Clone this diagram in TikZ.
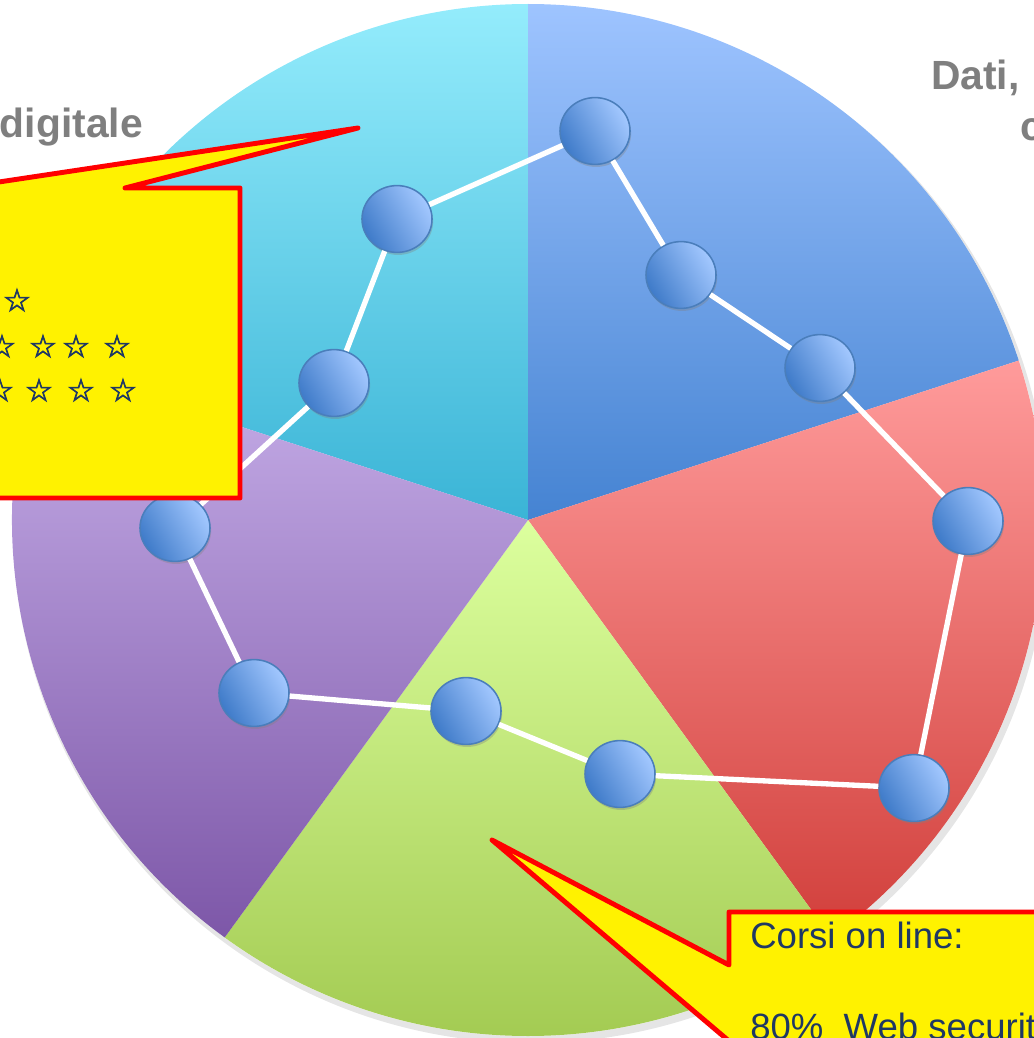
\documentclass[tikz,border=0pt]{standalone}
\usepackage{fontspec}
\setmainfont{Liberation Sans}
\newfontfamily\symfont[FakeBold=2.5]{DejaVu Sans}
\usepackage{xcolor}
\usepackage{tikz}
\usetikzlibrary{shapes.geometric,shadows}
\definecolor{cyantop}{HTML}{94ECFC}
\definecolor{cyanbot}{HTML}{3AB4D6}
\definecolor{bluetop}{HTML}{9EC4FF}
\definecolor{bluebot}{HTML}{4583D2}
\definecolor{redtop}{HTML}{FF9B9B}
\definecolor{redbot}{HTML}{D13F3B}
\definecolor{greentop}{HTML}{DCFF9E}
\definecolor{greenbot}{HTML}{A0C84E}
\definecolor{purpletop}{HTML}{C6AEE8}
\definecolor{purplebot}{HTML}{7D57A8}
\definecolor{balltop}{HTML}{A3C8FF}
\definecolor{ballbot}{HTML}{3F7BC9}
\definecolor{balledge}{HTML}{4A7EBB}
\definecolor{titlegray}{HTML}{7F7F7F}
\definecolor{navy}{HTML}{1F3864}
\tikzset{
  link/.style={draw=white, line width=3.8pt},
  ball/.style={ellipse, draw=balledge, line width=1.1pt, top color=balltop,
    bottom color=ballbot, shading angle=-60, minimum width=1.75cm,
    minimum height=1.67cm, inner sep=0pt,
    drop shadow={shadow xshift=0.8pt, shadow yshift=-1.8pt, opacity=0.35}},
  callout/.style={draw=red, fill=yellow, line width=3.5pt, line join=round},
  title/.style={text=titlegray, font=\bfseries\fontsize{29}{35}\selectfont, inner sep=0pt},
  labm/.style={text=navy, font=\fontsize{26}{31}\selectfont, inner sep=0pt},
  staricon/.style={text=navy, font=\symfont\fontsize{22}{24}\selectfont, inner sep=0pt}
}
\begin{document}
\begin{tikzpicture}[x=0.025cm, y=0.025cm]
  \useasboundingbox (0,0) rectangle (1033,-1038);
  \coordinate (O) at (528,-520);

  % shadow under the pie
  \fill[black, opacity=0.10] (531,-525) circle (518);
  \fill[white] (O) circle (516);

  % five slices, each with its own vertical gradient
  \foreach \a/\ctop/\cbot in {90/cyantop/cyanbot, 18/bluetop/bluebot,
      -54/redtop/redbot, -126/greentop/greenbot, 162/purpletop/purplebot}
    \shade[top color=\ctop, bottom color=\cbot]
      (O) -- ++(\a:516) arc[start angle=\a, end angle=\a+72, radius=516] -- cycle;

  % balls
  \foreach \n/\x/\y in {n1/595/131, n2/681/275, n3/820/368, n4/968/521,
      n5/914/788, n6/620/774, n7/466/711, n8/254/693, n9/175/528,
      n10/334/383, n11/397/219}
    \node[ball] (\n) at (\x,-\y) {};

  % ring of links
  \foreach \a/\b in {n1/n2, n2/n3, n3/n4, n4/n5, n5/n6, n6/n7, n7/n8,
      n8/n9, n9/n10, n10/n11, n11/n1}
    \draw[link] (\a) -- (\b);

  % titles
  \node[title, anchor=base east] (tleft) at (143,-137) {digitale};
  \node[title, anchor=base west] (tright) at (931,-90) {Dati,};
  \node[title, anchor=base west] (tright2) at (1020,-140) {c};

  % upper callout
  \draw[callout] (-60,-188) -- (-41,-188) -- (358,-128) -- (125,-188)
    -- (240,-188) -- (240,-498) -- (-60,-498) -- cycle;
  \foreach \x/\y [count=\i] in {17/300, 2/346, 43/346, 76/346, 117/346,
      0/390, 39/390, 81/390, 123/390}
    \node[staricon] (s\i) at (\x,-\y) {☆};

  % lower callout
  \draw[callout] (729,-912) -- (1100,-912) -- (1100,-1100) -- (729,-1100)
    -- (729,-1041) -- (492,-840) -- (729,-965) -- cycle;
  \node[labm, anchor=base west] (corsi) at (750,-948) {Corsi on line:};
  \node[labm, anchor=base west] (web) at (750,-1039) {80\%~~Web securit};
\end{tikzpicture}
\end{document}
